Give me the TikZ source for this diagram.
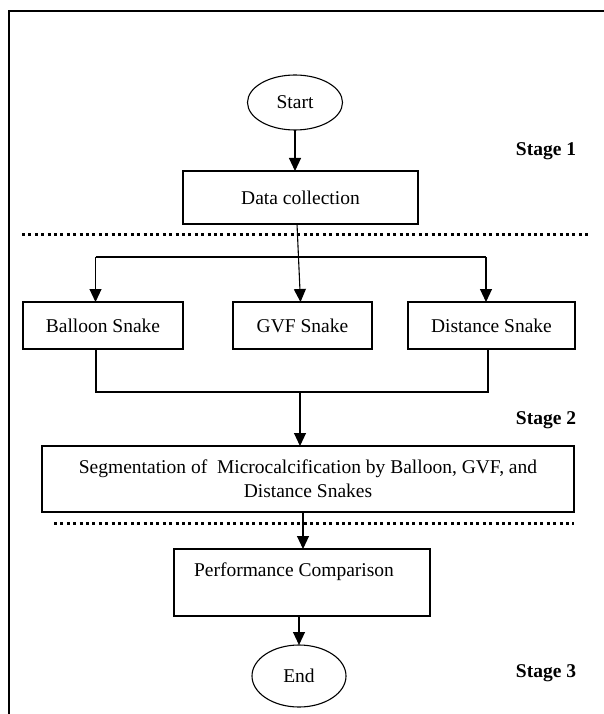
\documentclass[tikz,border=0pt]{standalone}
\usepackage{fontspec}
\setmainfont{Liberation Serif}
\usetikzlibrary{arrows.meta,shapes.geometric}
\tikzset{
  every node/.style={font=\fontsize{19.5bp}{24bp}\selectfont, inner sep=0pt, outer sep=0pt},
  box/.style={draw, line width=1.1bp, rectangle, align=center},
  oval/.style={draw, line width=1.1bp, ellipse},
  arr/.style={line width=1.1bp, -{Triangle[length=13bp,width=12bp]}},
  conn/.style={line width=1.1bp},
  sep/.style={line width=3bp, dash pattern=on 3bp off 3.4bp},
  stagelbl/.style={font=\fontsize{19.5bp}{24bp}\selectfont\bfseries},
}
\begin{document}
\begin{tikzpicture}[x=1bp,y=-1bp]
\useasboundingbox (0,0) rectangle (604,714);
% frame
\draw[line width=1.6bp] (604,11) -- (9,11) -- (9,714);
% nodes
\node[oval, minimum width=95bp, minimum height=55bp] (start) at (295,102.5) {Start};
\node[box, minimum width=235bp, minimum height=53bp] (data) at (300.5,197.5) {Data collection};
\node[box, minimum width=160bp, minimum height=47bp] (bl) at (103,325.5) {Balloon Snake};
\node[box, minimum width=139bp, minimum height=47bp] (gvf) at (302.5,325.5) {GVF Snake};
\node[box, minimum width=167bp, minimum height=47bp] (ds) at (491.5,325.5) {Distance Snake};
\node[box, minimum width=532bp, minimum height=66bp] (seg) at (308,479) {Segmentation of\ \ Microcalcification by Balloon, GVF, and\\Distance Snakes};
\node[box, minimum width=256bp, minimum height=67bp] (perf) at (302,582.5) {};
\node (perftext) at (294,572) {Performance Comparison};
\node[oval, minimum width=94bp, minimum height=62bp] (end) at (299,676) {End};
% stage labels
\node[stagelbl] (s1) at (546,151) {Stage 1};
\node[stagelbl] (s2) at (546,420) {Stage 2};
\node[stagelbl] (s3) at (546,673) {Stage 3};
% separators
\coordinate (d1a) at (22,234.5);
\coordinate (d1b) at (589,234.5);
\coordinate (d2a) at (54,523);
\coordinate (d2b) at (574,523);
\draw[sep] (d1a) -- (d1b);
\draw[sep] (d2a) -- (d2b);
% connectors
\draw[arr] (start.south) -- (start.south |- data.north);
\draw[arr] ([xshift=-3.5bp]data.south) -- ([xshift=-2bp]gvf.north);
\coordinate (b1) at (95.5,257);
\coordinate (b2) at (486,257);
\draw[conn] (b1) -- (b2);
\draw[arr] (b1) -- (b1 |- bl.north);
\draw[arr] (b2) -- (b2 |- ds.north);
\coordinate (c1) at (96,392);
\coordinate (c2) at (488,392);
\coordinate (c3) at (300,392);
\draw[conn] (c1 |- bl.south) -- (c1) -- (c2) -- (c2 |- ds.south);
\draw[arr] (c3) -- (c3 |- seg.north);
\draw[arr] ([xshift=1bp]perf.north |- seg.south) -- ([xshift=1bp]perf.north);
\draw[arr] (end.north |- perf.south) -- (end.north);
\end{tikzpicture}
\end{document}
